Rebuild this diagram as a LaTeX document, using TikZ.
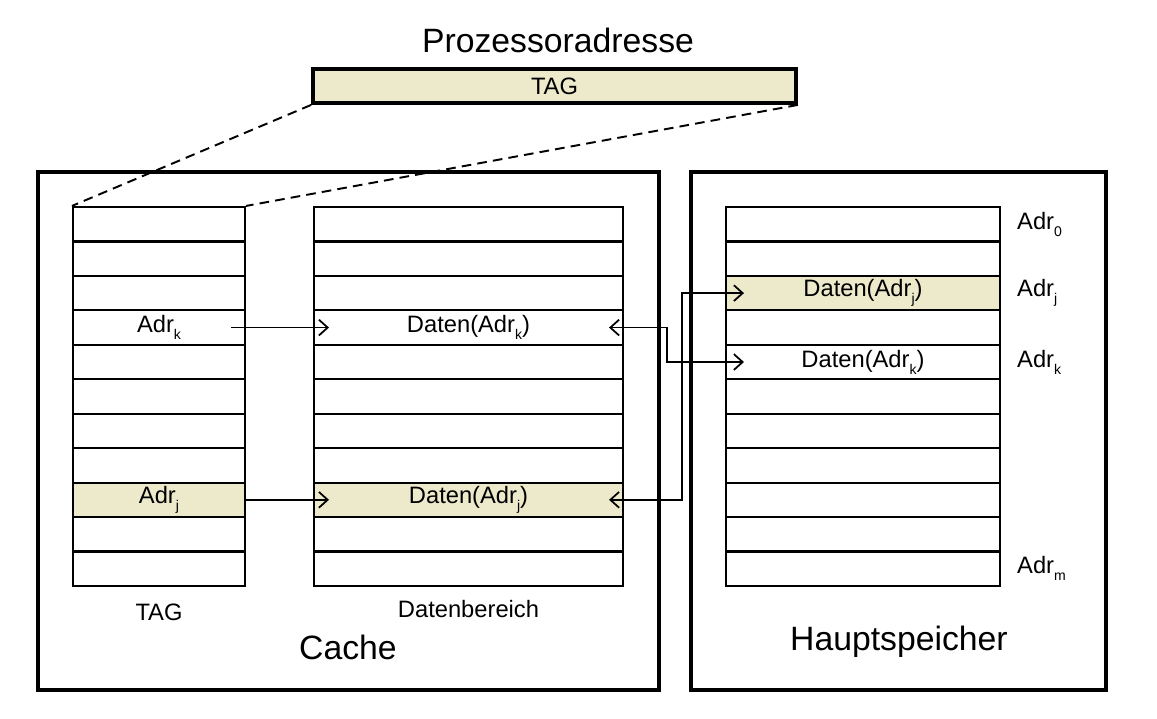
\documentclass[tikz,border=0pt]{standalone}
\usepackage{fontspec}
\setmainfont{Liberation Sans}
\usetikzlibrary{arrows.meta,positioning}
\definecolor{tagbeige}{RGB}{236,234,203}
\newcommand{\adr}[1]{Adr\raisebox{-0.55ex}{\fontsize{8}{8}\selectfont #1}}

\begin{document}
\begin{tikzpicture}[x=0.02cm,y=-0.02cm,>={Straight Barb[length=5pt,width=9pt]},font=\fontsize{13.5}{16}\selectfont]
  \tikzstyle{bigbox}=[draw,line width=2.2pt,minimum height=10.36cm]
  \tikzstyle{cell}=[draw,line width=1.2pt,minimum height=0.689cm,inner sep=0pt]
  \tikzstyle{hit}=[cell,fill=tagbeige]
  \tikzstyle{tagcol}=[minimum width=3.44cm]
  \tikzstyle{datacol}=[minimum width=6.18cm]
  \tikzstyle{memcol}=[minimum width=5.48cm]
  \tikzstyle{title}=[font=\fontsize{19.2}{22}\selectfont]
  \tikzstyle{link}=[->,line width=1pt]
  \useasboundingbox (0,0) rectangle (1157,719);

  \node[bigbox,minimum width=12.42cm] (cache) at (348.5,431) {};
  \node[bigbox,minimum width=8.3cm]   (mem)   at (898.5,431) {};

  % Zeilen
  \foreach \i in {1,...,11} {
    \node[cell,tagcol]  (T\i) at (159,{207+34.45*(\i-0.5)}) {};
    \node[cell,datacol] (D\i) at (468.5,{207+34.45*(\i-0.5)}) {};
    \node[cell,memcol]  (M\i) at (863,{207+34.45*(\i-0.5)}) {};
  }

  \node[hit,tagcol]  (Tj) at (T9) {\adr{j}};
  \node[hit,datacol] (Dj) at (D9) {Daten(\adr{j})};
  \node[hit,memcol]  (Mj) at (M3) {Daten(\adr{j})};
  \node (Tk) at (T4) {\adr{k}};
  \node (Dk) at (D4) {Daten(\adr{k})};
  \node (Mk) at (M5) {Daten(\adr{k})};

  \node[right=0.2cm of M1]  (a0) {\adr{0}};
  \node[right=0.2cm of M3]  (aj) {\adr{j}};
  \node[right=0.2cm of M5]  (ak) {\adr{k}};
  \node[right=0.2cm of M11] (am) {\adr{m}};

  % Prozessoradresse
  \node[title] (proz) at (558,40) {Prozessoradresse};
  \node[draw,line width=2.2pt,fill=tagbeige,minimum width=9.66cm,minimum height=0.68cm] (addr) at (554.5,86) {TAG};
  \draw[line width=1.1pt,dash pattern=on 5.5pt off 3.5pt] (addr.south west) -- (T1.north west);
  \draw[line width=1.1pt,dash pattern=on 5.5pt off 3.5pt] (addr.south east) -- (T1.north east);

  \node[below=0.22cm of T11] (taglabel)  {TAG};
  \node[below=0.14cm of D11] (datalabel) {Datenbereich};
  \node[title] (cachelabel) at (348,647) {Cache};
  \node[title] (memlabel)   at (899,642) {Hauptspeicher};

  \draw[link] ([xshift=-0.3cm]T4.east) -- ([xshift=0.32cm]D4.west);
  \draw[link] (T9.east) -- ([xshift=0.32cm]D9.west);
  \draw[link,<->] ([xshift=-0.3cm]D4.east) -| ([xshift=-1.16cm]M5.west) -- ([xshift=0.38cm]M5.west);
  \draw[link,<->] ([xshift=-0.3cm]D9.east) -| ([xshift=-0.86cm]M3.west) -- ([xshift=0.38cm]M3.west);
\end{tikzpicture}
\end{document}
